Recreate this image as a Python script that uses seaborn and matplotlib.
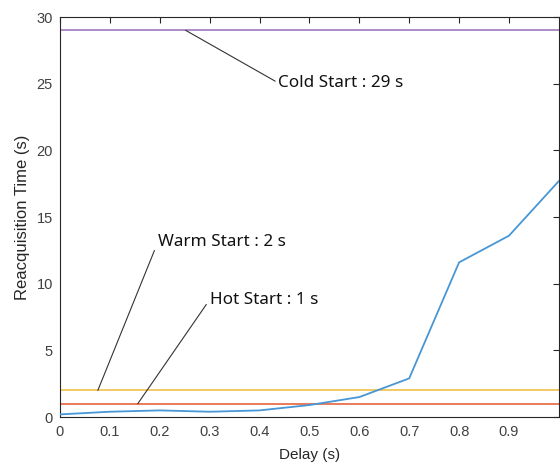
import matplotlib
matplotlib.use("Agg")
import matplotlib.pyplot as plt
import seaborn as sns
import pandas as pd

delay = [0.0, 0.1, 0.2, 0.3, 0.4, 0.5, 0.6, 0.7, 0.8, 0.9, 1.0]
reacq = [0.2, 0.4, 0.5, 0.4, 0.5, 0.9, 1.5, 2.9, 11.6, 13.6, 17.7]
ref_names = ["Hot Start", "Warm Start", "Cold Start"]
ref_values = [1, 2, 29]
x_ticks = [0, 0.1, 0.2, 0.3, 0.4, 0.5, 0.6, 0.7, 0.8, 0.9]
y_ticks = [0, 5, 10, 15, 20, 25, 30]

sns.set_style("white")
plt.rcParams['font.family'] = ['Liberation Sans', 'DejaVu Sans']

fig = plt.figure(figsize=(5.6, 4.66), dpi=100)
ax = fig.add_axes([0.107, 0.105, 0.891, 0.8585])

df = pd.DataFrame({"Delay": delay, "Time": reacq})
ref_colors = {"Hot Start": "#e8704a", "Warm Start": "#f2c45a", "Cold Start": "#a784c4"}
for name, val in zip(ref_names, ref_values):
    ax.axhline(val, color=ref_colors[name], lw=1.3, zorder=2)
sns.lineplot(data=df, x="Delay", y="Time", ax=ax, color="#4796d6", lw=1.3, zorder=3)

ax.set_xlim(0, 1)
ax.set_ylim(0, 30)
ax.set_xticks(x_ticks)
ax.set_xticklabels([f"{t:g}" for t in x_ticks])
ax.set_yticks(y_ticks)
ax.tick_params(direction="in", top=True, right=True, length=4, width=0.8,
               colors="#262626", labelsize=10.5, labelcolor="#404040")
ax.tick_params(axis="x", pad=6)
ax.tick_params(axis="y", pad=5)
for s in ax.spines.values():
    s.set_color("#262626")
    s.set_linewidth(0.8)
ax.set_xlabel("Delay (s)", fontsize=11, color="#262626", labelpad=6)
ax.set_ylabel("Reacquisition Time (s)", fontsize=12, color="#262626", labelpad=5)

annot = {
    "Cold Start": ((0.252, 29), (0.438, 25.05)),
    "Warm Start": ((0.076, 2), (0.196, 13.1)),
    "Hot Start": ((0.156, 1), (0.30, 8.8)),
}
for name, val in zip(ref_names, ref_values):
    (x0, y0), (x1, y1) = annot[name]
    ax.annotate(f"{name} : {val} s", xy=(x0, y0), xytext=(x1, y1),
                textcoords="data", ha="left", va="center",
                fontsize=12.3, family=["Noto Sans", "DejaVu Sans"], color="#111111",
                arrowprops=dict(arrowstyle="-", color="#333333", lw=0.8,
                                shrinkA=0, shrinkB=0, relpos=(0, 0.5)))

fig.savefig("out.png", dpi=100)
